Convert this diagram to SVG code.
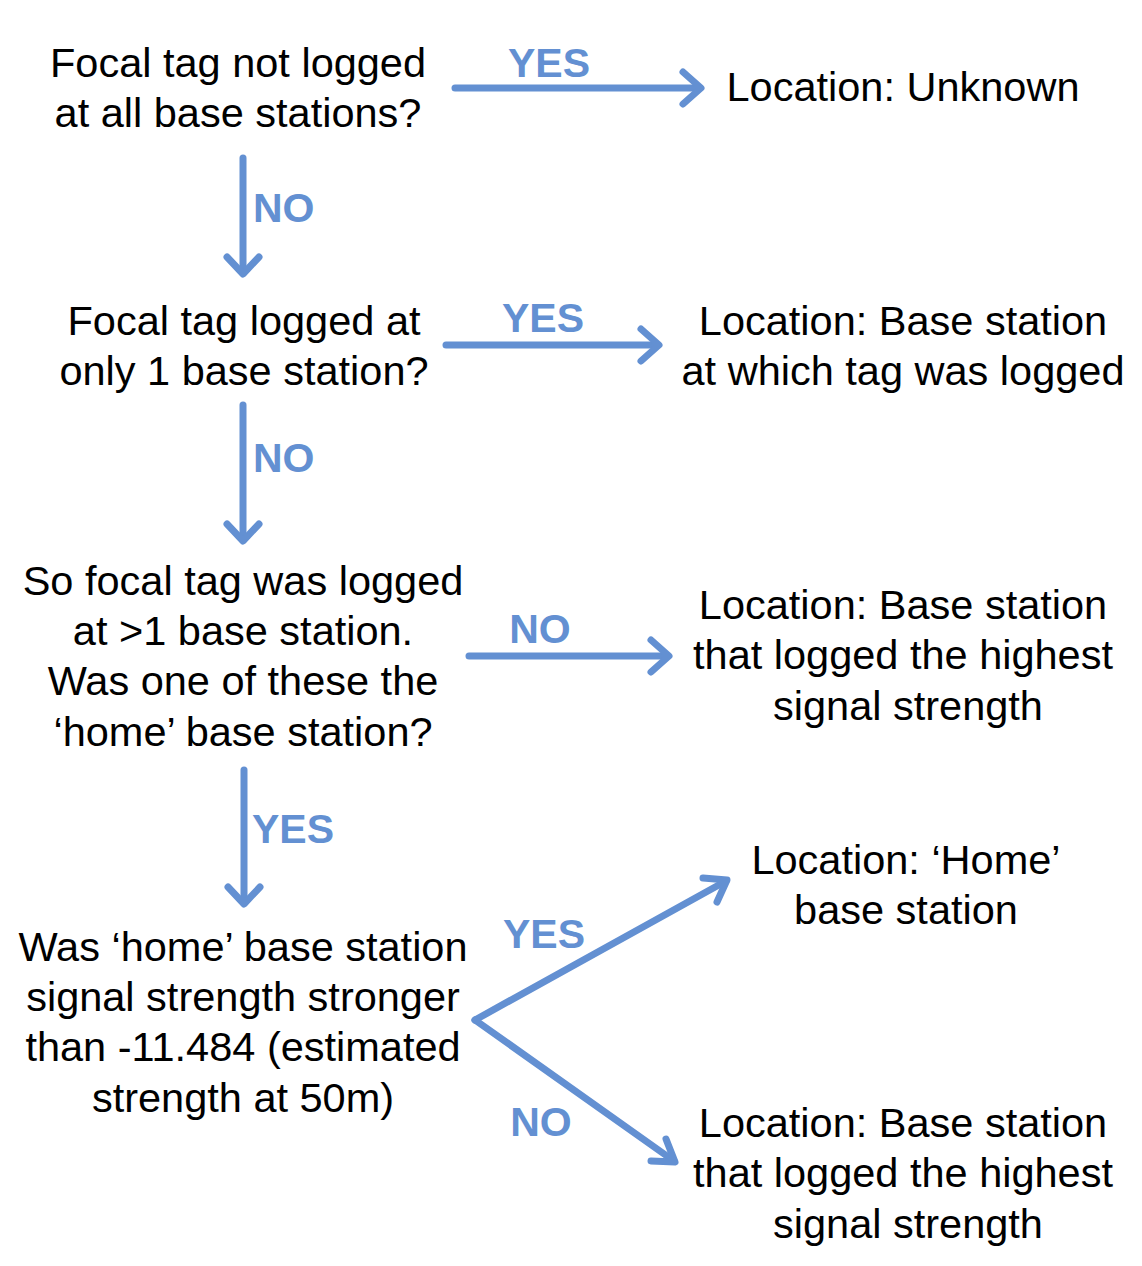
<svg xmlns="http://www.w3.org/2000/svg" width="1142" height="1266" viewBox="0 0 1142 1266">
<style>
.t{font-family:"Liberation Sans",Arial,sans-serif;font-size:41.5px;fill:#000;text-anchor:middle}
.l{font-family:"Liberation Sans",Arial,sans-serif;font-size:41px;font-weight:bold;fill:#6390D2}
.c{stroke:#6390D2;stroke-width:7;fill:none;stroke-linecap:round;stroke-linejoin:round}
</style>
<rect width="1142" height="1266" fill="#fff"/>
<g id="connectors">
<path class="c" d="M455,88 H699"/><path class="c" d="M683,72 L701,88 L683,104"/>
<path class="c" d="M243,158 V272"/><path class="c" d="M227,257 L243,274 L259,257"/>
<path class="c" d="M446,345 H657"/><path class="c" d="M641,329 L659,345 L641,361"/>
<path class="c" d="M243,405 V539"/><path class="c" d="M227,524 L243,541 L259,524"/>
<path class="c" d="M469,656 H667"/><path class="c" d="M651,640 L669,656 L651,672"/>
<path class="c" d="M244,770 V902"/><path class="c" d="M228,887 L244,904 L260,887"/>
<path class="c" d="M475,1020 L726,881"/><path class="c" d="M703,878 L727,880 L717,902"/>
<path class="c" d="M475,1020 L674,1161"/><path class="c" d="M666,1139 L675,1162 L651,1161"/>
<text class="l" x="549" y="77" text-anchor="middle">YES</text>
<text class="l" x="253" y="222">NO</text>
<text class="l" x="543" y="332" text-anchor="middle">YES</text>
<text class="l" x="253" y="472">NO</text>
<text class="l" x="540" y="643" text-anchor="middle">NO</text>
<text class="l" x="252" y="843">YES</text>
<text class="l" x="544" y="948" text-anchor="middle">YES</text>
<text class="l" x="541" y="1136" text-anchor="middle">NO</text>
</g>
<g id="q1"><text class="t" x="238" y="77">Focal tag not logged</text><text class="t" x="238" y="127">at all base stations?</text></g>
<g id="r1"><text class="t" x="903" y="101">Location: Unknown</text></g>
<g id="q2"><text class="t" x="244" y="335">Focal tag logged at</text><text class="t" x="244" y="385">only 1 base station?</text></g>
<g id="r2"><text class="t" x="903" y="335">Location: Base station</text><text class="t" x="903" y="385">at which tag was logged</text></g>
<g id="q3"><text class="t" x="243" y="595">So focal tag was logged</text><text class="t" x="243" y="645">at &gt;1 base station.</text><text class="t" x="243" y="695">Was one of these the</text><text class="t" x="243" y="746">‘home’ base station?</text></g>
<g id="r3"><text class="t" x="903" y="619">Location: Base station</text><text class="t" x="903" y="669">that logged the highest</text><text class="t" x="908" y="720">signal strength</text></g>
<g id="q4"><text class="t" x="243" y="961">Was ‘home’ base station</text><text class="t" x="243" y="1011">signal strength stronger</text><text class="t" x="243" y="1061">than -11.484 (estimated</text><text class="t" x="243" y="1112">strength at 50m)</text></g>
<g id="r4"><text class="t" x="906" y="874">Location: ‘Home’</text><text class="t" x="906" y="924">base station</text></g>
<g id="r5"><text class="t" x="903" y="1137">Location: Base station</text><text class="t" x="903" y="1187">that logged the highest</text><text class="t" x="908" y="1238">signal strength</text></g>
</svg>
